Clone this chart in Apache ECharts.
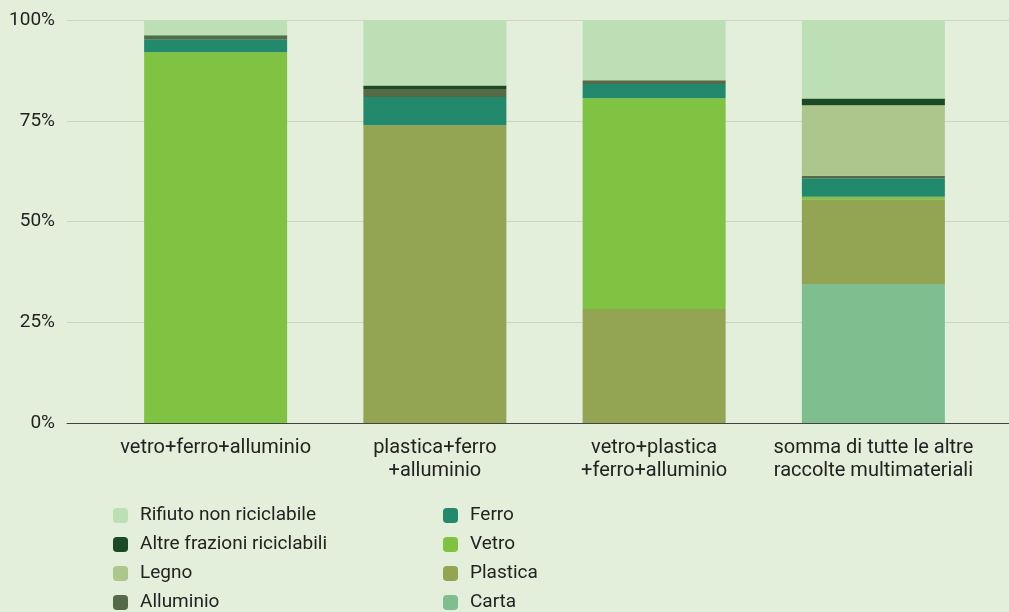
<!DOCTYPE html>
<html><head><meta charset="utf-8">
<script src="https://cdn.jsdelivr.net/npm/echarts@6/dist/echarts.min.js"></script>
<style>html,body{margin:0;padding:0;background:#e3efdb;}#c{width:1009px;height:612px;}</style>
</head><body><div id="c"></div>
<script>
const categories = ['vetro+ferro+alluminio', 'plastica+ferro\n+alluminio', 'vetro+plastica\n+ferro+alluminio', 'somma di tutte le altre\nraccolte multimateriali'];
const yTicks = [0, 25, 50, 75, 100];
const carta = [null, null, null, 34.5];
const plastica = [null, 73.9, 28.3, 21.0];
const vetro = [92.0, null, 52.3, 0.65];
const ferro = [3.2, 7.0, 3.55, 4.57];
const alluminio = [0.9, 2.0, 0.9, 0.65];
const legno = [null, null, null, 17.5];
const altre = [0.1, 0.85, null, 1.66];
const rifiuto = [3.8, 16.25, 14.95, 19.47];

const seriesDefs = [
  {name: 'Carta', data: carta, color: '#7fbf8f'},
  {name: 'Plastica', data: plastica, color: '#93a452'},
  {name: 'Vetro', data: vetro, color: '#80c242'},
  {name: 'Ferro', data: ferro, color: '#22896c'},
  {name: 'Alluminio', data: alluminio, color: '#556a46'},
  {name: 'Legno', data: legno, color: '#adc68c'},
  {name: 'Altre frazioni riciclabili', data: altre, color: '#1b4a24'},
  {name: 'Rifiuto non riciclabile', data: rifiuto, color: '#bddfb5'}
];

const font = 'Roboto';
const chart = echarts.init(document.getElementById('c'));
const legendCommon = {
  orient: 'vertical', top: 506, padding: 0, height: 106, itemWidth: 15, itemHeight: 15, itemGap: 10,
  icon: 'roundRect', selectedMode: false,
  textStyle: {fontFamily: font, fontSize: 19, lineHeight: 19, color: '#222', padding: [0, 0, 0, 7]}
};
chart.setOption({
  backgroundColor: '#e3efdb',
  animation: false,
  color: seriesDefs.map(s => s.color),
  grid: [
    {left: 106, right: 26, top: 20, bottom: 189},
    {left: 67, right: 0, top: 20, bottom: 189}
  ],
  legend: [
    Object.assign({}, legendCommon, {left: 113, data: ['Rifiuto non riciclabile', 'Altre frazioni riciclabili', 'Legno', 'Alluminio']}),
    Object.assign({}, legendCommon, {left: 443, data: ['Ferro', 'Vetro', 'Plastica', 'Carta']})
  ],
  xAxis: [
    {type: 'category', gridIndex: 0, data: categories,
     axisLine: {show: false}, axisTick: {show: false},
     axisLabel: {fontFamily: font, fontSize: 20, color: '#222', lineHeight: 23, margin: 13, interval: 0}},
    {type: 'category', gridIndex: 1, data: [''], show: true,
     axisLine: {show: true, lineStyle: {color: '#444', width: 1}}, axisTick: {show: false}, axisLabel: {show: false}}
  ],
  yAxis: [
    {type: 'value', gridIndex: 0, min: 0, max: 100, interval: 25, show: false},
    {type: 'value', gridIndex: 1, min: 0, max: 100, interval: 25,
     axisLine: {show: false}, axisTick: {show: false},
     splitLine: {lineStyle: {color: '#c9d6c2', width: 1}},
     axisLabel: {fontFamily: font, fontSize: 19, color: '#222', margin: 12,
       formatter: v => yTicks.indexOf(v) >= 0 ? v + '%' : ''}}
  ],
  series: seriesDefs.map(s => ({
    name: s.name, type: 'bar', stack: 'total', data: s.data,
    xAxisIndex: 0, yAxisIndex: 0, barWidth: 143,
    itemStyle: {color: s.color}
  }))
});
</script>
</body></html>
